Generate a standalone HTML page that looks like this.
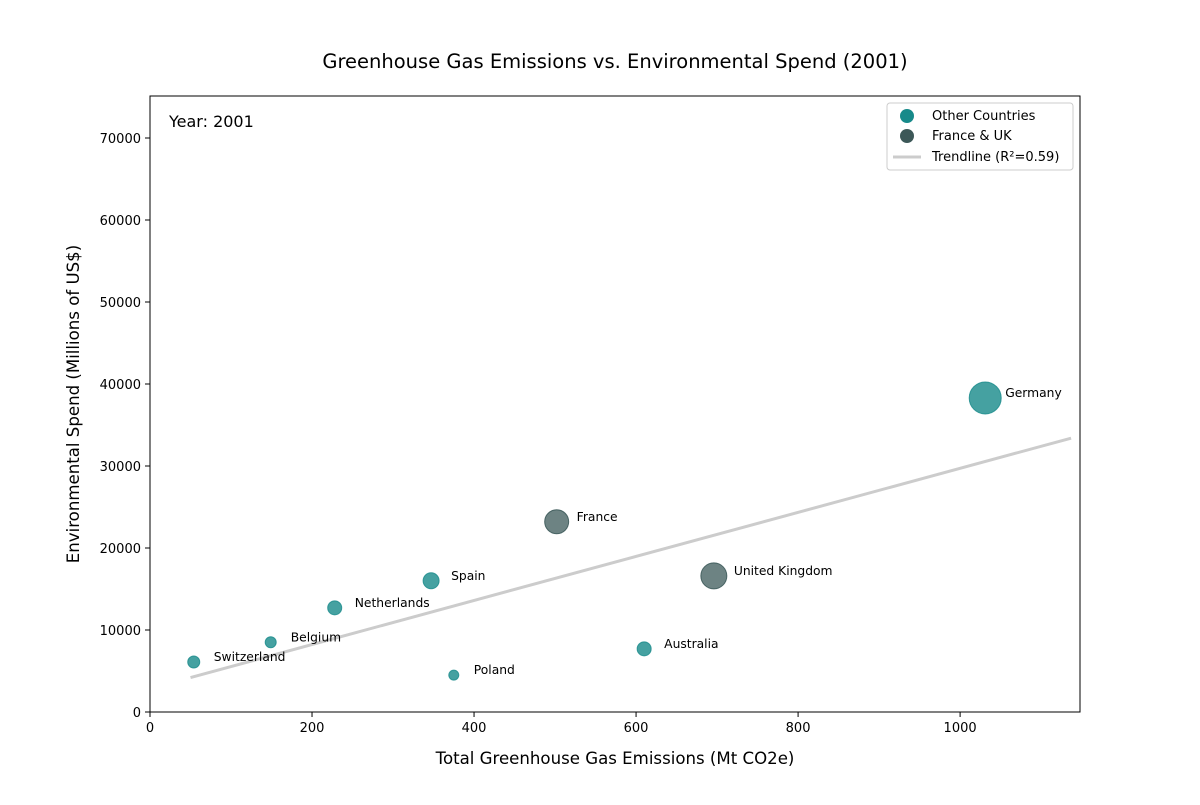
<!DOCTYPE html>
<html><head><meta charset="utf-8"><style>
body{margin:0;background:#fff;font-family:"Liberation Sans","DejaVu Sans",sans-serif}
</style></head><body>
<svg id="chart" width="1200" height="800" xmlns="http://www.w3.org/2000/svg" font-family="DejaVu Sans, Liberation Sans, sans-serif"></svg>
<script>
const countries=["Switzerland","Belgium","Netherlands","Spain","Poland","France","Australia","United Kingdom","Germany"];
const emissions=[54,149,228,347,375,502,610,696,1031];
const spend=[6100,8500,12700,16000,4500,23200,7700,16600,38300];
const radii=[6,5.5,7,8,5,12,7,13,16];
const groups=["other","other","other","other","other","fr","other","fr","other"];
const xTicks=[0,200,400,600,800,1000];
const yTicks=[0,10000,20000,30000,40000,50000,60000,70000];
const trendX=[50,1137];
const trendSlope=26.86, trendIntercept=2857;
const L=150,R=1080,T=96,B=712,xMax=1148,yMax=75122;
const sx=v=>L+v/xMax*(R-L), sy=v=>B-v/yMax*(B-T);
const svg=document.getElementById('chart');const NS='http://www.w3.org/2000/svg';
function mk(tag,attrs,name,txt){const e=document.createElementNS(NS,tag);for(const k in attrs)e.setAttribute(k,attrs[k]);


if(txt!==undefined)e.textContent=txt;svg.appendChild(e);return e;}
mk('text',{x:615,y:68,'text-anchor':'middle','font-size':19.5},'chart-title','Greenhouse Gas Emissions vs. Environmental Spend (2001)');
mk('rect',{x:L,y:T,width:R-L,height:B-T,fill:'none',stroke:'#000','stroke-width':1},'plot-frame');
xTicks.forEach(t=>{const x=sx(t);mk('line',{x1:x,x2:x,y1:B,y2:B+5,stroke:'#000'},'x-tick');mk('text',{x:x,y:B+20,'text-anchor':'middle','font-size':13},'x-tick-label',t);});
yTicks.forEach(t=>{const y=sy(t);mk('line',{x1:L-5,x2:L,y1:y,y2:y,stroke:'#000'},'y-tick');mk('text',{x:L-9,y:y+5,'text-anchor':'end','font-size':13},'y-tick-label',t);});
mk('text',{x:615,y:764,'text-anchor':'middle','font-size':16.6},'x-axis-title','Total Greenhouse Gas Emissions (Mt CO2e)');
mk('text',{x:79,y:404,'text-anchor':'middle','font-size':16.6,transform:'rotate(-90 79 404)'},'y-axis-title','Environmental Spend (Millions of US$)');
mk('text',{x:169,y:127,'font-size':16},'year-annotation','Year: 2001');
mk('line',{x1:sx(trendX[0]),y1:sy(trendIntercept+trendSlope*trendX[0]),x2:sx(trendX[1]),y2:sy(trendIntercept+trendSlope*trendX[1]),stroke:'#cccccc','stroke-width':3},'trendline');
countries.forEach((c,i)=>{const x=sx(emissions[i]),y=sy(spend[i]);const fr=groups[i]==='fr';
mk('circle',{cx:x,cy:y,r:radii[i],fill:fr?'#2f4f4f':'#178a8a','fill-opacity':fr?0.7:0.8,stroke:fr?'#2f4f4f':'#178a8a','stroke-width':1,'stroke-opacity':0.8},'point-'+c.toLowerCase().replace(/ /g,'-'));
mk('text',{x:x+20,y:y-1,'font-size':12.3},'label-'+c.toLowerCase().replace(/ /g,'-'),c);});
mk('rect',{x:887,y:103,width:186,height:67,fill:'#fff',stroke:'#ccc',rx:3},'legend-box');
mk('circle',{cx:907,cy:116,r:7,fill:'#178a8a'},'legend-marker-other');
mk('text',{x:932,y:120,'font-size':13},'legend-entry-other','Other Countries');
mk('circle',{cx:907,cy:136,r:7,fill:'#3d5858'},'legend-marker-fr-uk');
mk('text',{x:932,y:140,'font-size':13},'legend-entry-fr-uk','France & UK');
mk('line',{x1:893,x2:921,y1:157,y2:157,stroke:'#ccc','stroke-width':3},'legend-marker-trend');
mk('text',{x:932,y:161,'font-size':13},'legend-entry-trend','Trendline (R²=0.59)');
</script>
</body></html>
